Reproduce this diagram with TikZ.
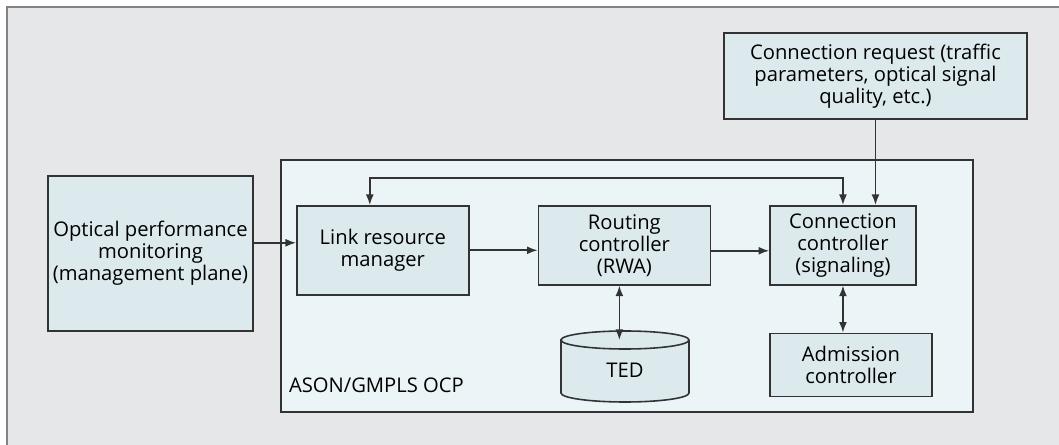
\documentclass[tikz,border=0pt]{standalone}
\usepackage{fontspec}
\setmainfont{Open Sans}
\usetikzlibrary{positioning, arrows.meta}

\definecolor{bggray}{HTML}{E6E7E8}
\definecolor{framegray}{HTML}{808285}
\definecolor{linegray}{HTML}{333333}
\definecolor{boxblue}{HTML}{DCEAEE}
\definecolor{ocpblue}{HTML}{EBF4F7}

\begin{document}
\begin{tikzpicture}[>={Latex[length=6pt,width=4.5pt]}, line width=0.9pt, draw=linegray,
    block/.style={draw=linegray, fill=boxblue, inner sep=0pt, align=center,
        font=\fontsize{11.5}{12.5}\selectfont}
    ]
    \useasboundingbox (0,0) rectangle (21.18,-8.9);

    % fundo e moldura
    \fill [bggray] (0.14,-0.14) rectangle (21.18,-8.9);
    \draw [framegray, line width=1.1pt] (0.14,-8.9) |- (21.18,-0.14);

    \node [draw=linegray,
        fill=ocpblue,
        inner sep=0pt,
        minimum width=13.84cm,
        minimum height=5.04cm
    ] (ocp) at (12.54,-5.72) {};

    \node [inner sep=0pt,
        anchor=base west,
        font=\fontsize{11.5}{12.5}\selectfont
    ] (ocplabel) at ([shift={(0.16,0.4)}]ocp.south west) {ASON/GMPLS OCP};

    \node [block,
        minimum width=4.1cm,
        minimum height=3.1cm
    ] (opm) at (3.01,-5.07) {Optical performance\\monitoring\\(management plane)};

    \node [block,
        minimum width=3.44cm,
        minimum height=1.78cm,
        anchor=north west
    ] (lrm) at (5.92,-4.1) {Link resource\\manager};

    \node [block,
        minimum width=3.44cm,
        minimum height=1.58cm,
        right=1.36cm of lrm.north east,
        anchor=north west
    ] (rwa) {Routing\\controller\\(RWA)};

    \node [block,
        minimum width=2.92cm,
        minimum height=1.58cm,
        right=1.16cm of rwa
    ] (conn) {Connection\\controller\\(signaling)};

    \node [block,
        minimum width=3.24cm,
        minimum height=1.26cm,
        below=0.94cm of conn.south west,
        anchor=north west
    ] (adm) {Admission\\controller};

    \node [block,
        minimum width=6.06cm,
        minimum height=1.72cm
    ] (req) at (17.51,-1.52) {Connection request (traffic\\parameters, optical signal\\quality, etc.)};

    % cilindro da TED
    \coordinate (tedtop) at (12.5,-6.8);
    \filldraw [fill=boxblue, draw=linegray]
        (11.22,-6.8) -- (11.22,-7.86)
        arc [start angle=180, end angle=360, x radius=1.28, y radius=0.18]
        -- (13.78,-6.8)
        arc [start angle=0, end angle=180, x radius=1.28, y radius=0.18]
        -- cycle;
    \draw [linegray] (11.22,-6.8)
        arc [start angle=180, end angle=360, x radius=1.28, y radius=0.18];
    \node [inner sep=0pt,
        font=\fontsize{11.5}{12.5}\selectfont
    ] (ted) at (12.5,-7.4) {TED};

    % setas
    \draw [->] ([yshift=0.15cm]lrm.west -| opm.east) -- ([yshift=0.15cm]lrm.west);
    \draw [->] (lrm.east) -- (lrm.east -| rwa.west);
    \draw [->] ([yshift=-0.11cm]rwa.east) -- ([yshift=-0.11cm]rwa.east -| conn.west);
    \draw [->] (req.south) -- (req.south |- conn.north);
    \draw [<->] ([xshift=-0.26cm]lrm.north) -- ++(0,0.54) -| (conn.north);
    \draw [<->] ([xshift=-0.1cm]rwa.south) -- ([xshift=-0.1cm]rwa.south |- tedtop);
    \draw [<->] (conn.south) -- (conn.south |- adm.north);

\end{tikzpicture}
\end{document}
